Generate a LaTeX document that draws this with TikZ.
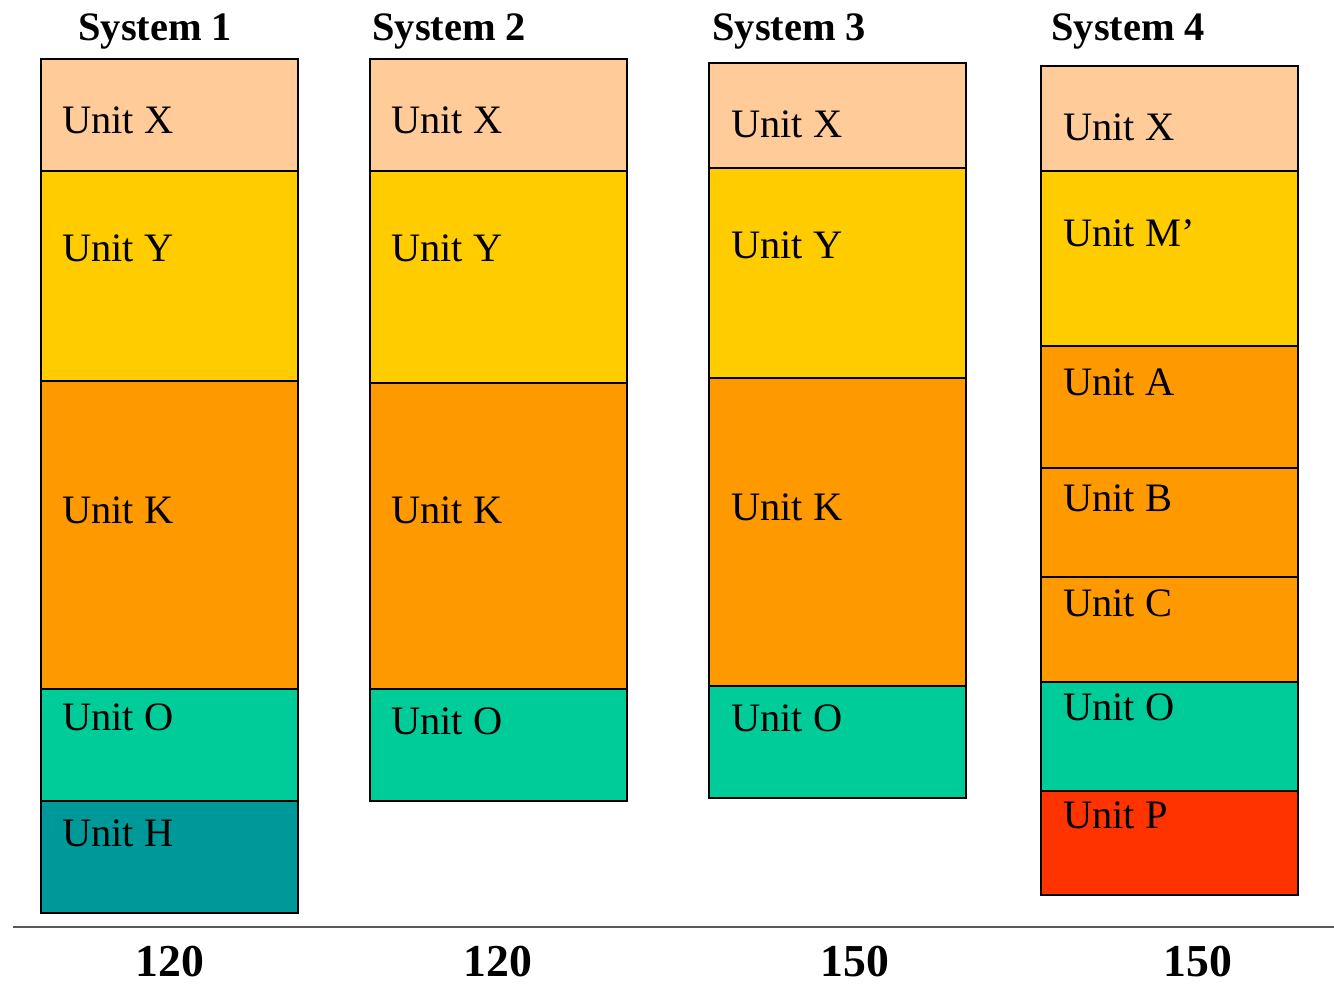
\documentclass[tikz,border=0pt]{standalone}
\usepackage{fontspec}
\setmainfont{Liberation Serif}
\usepackage{xcolor}
\usetikzlibrary{positioning}

\definecolor{peach}{HTML}{FFCC99}
\definecolor{gold}{HTML}{FFCC00}
\definecolor{amber}{HTML}{FF9900}
\definecolor{mint}{HTML}{00CC99}
\definecolor{teal}{HTML}{009999}
\definecolor{tomato}{HTML}{FF3300}

\begin{document}
\begin{tikzpicture}[
	x=0.02cm, y=-0.02cm,
	blk/.style={draw=black, line width=1.1pt},
	lbl/.style={anchor=west, inner sep=0pt, font=\fontsize{23}{27}\selectfont},
	systitle/.style={anchor=west, inner sep=0pt, font=\fontsize{23}{27}\selectfont\bfseries},
	total/.style={inner sep=0pt, font=\fontsize{26}{30}\selectfont\bfseries}
	]
	\useasboundingbox (0,0) rectangle (1334,985);
	
	%% --- titles ---
	\node[systitle] (t1) at (78,31)   {System 1};
	\node[systitle] (t2) at (372,31)  {System 2};
	\node[systitle] (t3) at (712,31)  {System 3};
	\node[systitle] (t4) at (1051,31) {System 4};
	
	%% --- system 1 ---
	\filldraw[blk, fill=peach] (41,59)  rectangle (298,171);
	\filldraw[blk, fill=gold]  (41,171) rectangle (298,381);
	\filldraw[blk, fill=amber] (41,381) rectangle (298,689);
	\filldraw[blk, fill=mint]  (41,689) rectangle (298,801);
	\filldraw[blk, fill=teal]  (41,801) rectangle (298,913);
	\node[lbl] (s1x) at (62,120) {Unit X};
	\node[lbl] (s1y) at (62,248) {Unit Y};
	\node[lbl] (s1k) at (62,510) {Unit K};
	\node[lbl] (s1o) at (62,717) {Unit O};
	\node[lbl] (s1h) at (62,833) {Unit H};
	
	%% --- system 2 ---
	\filldraw[blk, fill=peach] (370,59)  rectangle (627,171);
	\filldraw[blk, fill=gold]  (370,171) rectangle (627,383);
	\filldraw[blk, fill=amber] (370,383) rectangle (627,689);
	\filldraw[blk, fill=mint]  (370,689) rectangle (627,801);
	\node[lbl] (s2x) at (391,120) {Unit X};
	\node[lbl] (s2y) at (391,248) {Unit Y};
	\node[lbl] (s2k) at (391,510) {Unit K};
	\node[lbl] (s2o) at (391,721) {Unit O};
	
	%% --- system 3 ---
	\filldraw[blk, fill=peach] (709,63)  rectangle (966,168);
	\filldraw[blk, fill=gold]  (709,168) rectangle (966,378);
	\filldraw[blk, fill=amber] (709,378) rectangle (966,686);
	\filldraw[blk, fill=mint]  (709,686) rectangle (966,798);
	\node[lbl] (s3x) at (731,124) {Unit X};
	\node[lbl] (s3y) at (731,245) {Unit Y};
	\node[lbl] (s3k) at (731,507) {Unit K};
	\node[lbl] (s3o) at (731,718) {Unit O};
	
	%% --- system 4 ---
	\filldraw[blk, fill=peach]  (1041,66)  rectangle (1298,171);
	\filldraw[blk, fill=gold]   (1041,171) rectangle (1298,346);
	\filldraw[blk, fill=amber]  (1041,346) rectangle (1298,468);
	\filldraw[blk, fill=amber]  (1041,468) rectangle (1298,577);
	\filldraw[blk, fill=amber]  (1041,577) rectangle (1298,682);
	\filldraw[blk, fill=mint]   (1041,682) rectangle (1298,791);
	\filldraw[blk, fill=tomato] (1041,791) rectangle (1298,895);
	\node[lbl] (s4x) at (1063,127) {Unit X};
	\node[lbl] (s4m) at (1063,233) {Unit M’};
	\node[lbl] (s4a) at (1063,382) {Unit A};
	\node[lbl] (s4b) at (1063,498) {Unit B};
	\node[lbl] (s4c) at (1063,603) {Unit C};
	\node[lbl] (s4o) at (1063,707) {Unit O};
	\node[lbl] (s4p) at (1063,815) {Unit P};
	
	%% --- baseline and totals ---
	\draw[black!65, line width=1.1pt] (13,927) -- (1334,927);
	\node[total] (n1) at (170,962)  {120};
	\node[total] (n2) at (498,962)  {120};
	\node[total] (n3) at (855,962)  {150};
	\node[total] (n4) at (1198,962) {150};
\end{tikzpicture}
\end{document}
